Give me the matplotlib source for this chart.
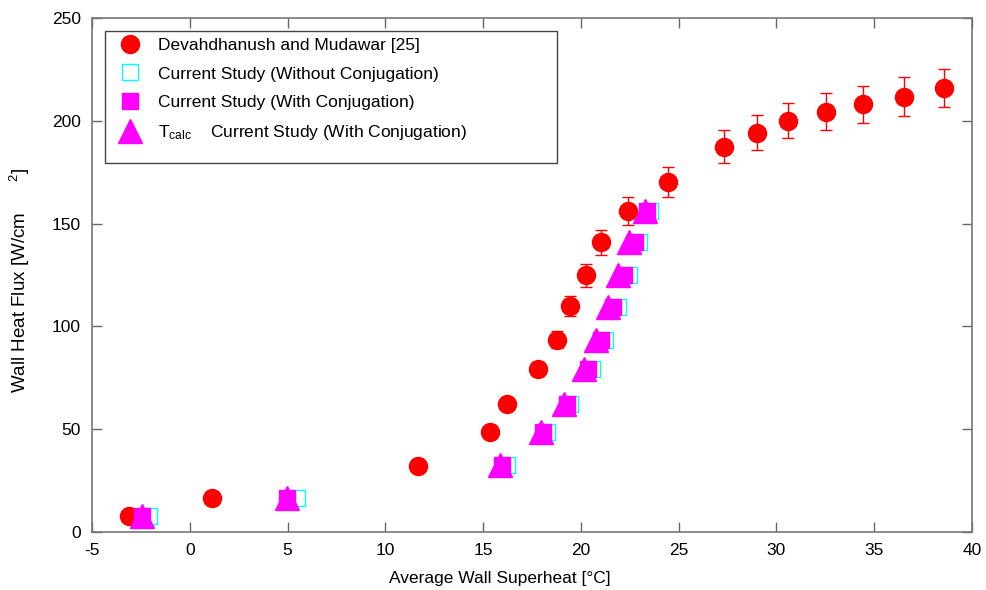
import matplotlib
matplotlib.use('Agg')
import matplotlib.pyplot as plt
from matplotlib.lines import Line2D
from matplotlib.patches import Rectangle

plt.rcParams['font.family'] = ['Liberation Sans', 'DejaVu Sans']
plt.rcParams['mathtext.fontset'] = 'custom'
plt.rcParams['mathtext.rm'] = 'Liberation Sans'
plt.rcParams['mathtext.it'] = 'Liberation Sans:italic'
plt.rcParams['axes.unicode_minus'] = False

# experiment (Devahdhanush and Mudawar [25])
exp_x = [-3.1, 1.13, 11.66, 15.34, 16.2, 17.79, 18.76, 19.44, 20.24, 21.03, 22.43,
         24.43, 27.32, 29.03, 30.57, 32.53, 34.44, 36.51, 38.59]
exp_q = [7.9, 16.5, 32.2, 48.4, 62.1, 79.1, 93.5, 109.9, 124.8, 140.9, 156.0,
         170.2, 187.5, 194.3, 200.0, 204.5, 208.1, 211.8, 215.9]
exp_err = [0.3, 0.7, 1.4, 2.1, 2.7, 3.4, 4.1, 4.8, 5.4, 6.2, 6.8,
           7.4, 8.0, 8.5, 8.6, 9.0, 9.0, 9.4, 9.3]

# simulations
sim_q = [7.9, 16.6, 32.5, 48.6, 62.3, 79.3, 93.2, 109.2, 125.1, 140.9, 156.0]
noconj_x = [-2.10, 5.50, 16.20, 18.26, 19.46, 20.57, 21.25, 21.88, 22.48, 22.99, 23.51]
conj_x = [-2.46, 4.95, 15.96, 18.04, 19.27, 20.35, 21.03, 21.63, 22.22, 22.77, 23.39]
tcalc_x = [-2.42, 4.97, 15.84, 17.94, 19.13, 20.16, 20.79, 21.40, 21.92, 22.46, 23.27]

W, H = 986, 590
fig = plt.figure(figsize=(W / 100, H / 100), dpi=100)
ax_l, ax_t, ax_w, ax_h = 92, 18, 880, 514
ax = fig.add_axes([ax_l / W, 1 - (ax_t + ax_h) / H, ax_w / W, ax_h / H])

ax.errorbar(exp_x, exp_q, yerr=exp_err, fmt='none', ecolor='red', elinewidth=1,
            capsize=4, capthick=1, zorder=2)
ax.plot(exp_x, exp_q, 'o', color='red', ms=13, mec='red', zorder=3)
ax.plot(noconj_x, sim_q, 's', mfc='white', mec='cyan', ms=11, mew=1, zorder=4)
ax.plot(conj_x, sim_q, 's', color='magenta', ms=11, zorder=5)
ax.plot(tcalc_x, sim_q, '^', color='magenta', ms=17, zorder=6)

ax.set_xlim(-5, 40)
ax.set_ylim(0, 250)
ax.set_xticks(range(-5, 41, 5))
ax.set_yticks(range(0, 251, 50))
ax.tick_params(direction='in', length=7, width=1, colors='#666666', labelcolor='black',
               labelsize=12.5, top=True, right=True, pad=8)
for s in ax.spines.values():
    s.set_color('#777777')
    s.set_linewidth(1.2)

ax.set_xlabel('Average Wall Superheat [°C]', fontsize=12.5)
ax.xaxis.set_label_coords(0.4636, -0.075)
ax.set_ylabel(r'Wall Heat Flux [W/cm$\qquad{}^{2}$]', fontsize=13.5)
ax.yaxis.set_label_coords(-0.068, 0.49)

handles = [
    Line2D([], [], ls='none', marker='o', color='red', ms=13),
    Line2D([], [], ls='none', marker='s', mfc='white', mec='cyan', ms=11),
    Line2D([], [], ls='none', marker='s', color='magenta', ms=11),
    Line2D([], [], ls='none', marker='^', color='magenta', ms=17),
]
labels = ['Devahdhanush and Mudawar [25]',
          'Current Study (Without Conjugation)',
          'Current Study (With Conjugation)',
          r'T$_{\mathrm{calc}}$    Current Study (With Conjugation)']
ax.legend(handles, labels, loc='upper left',
          bbox_to_anchor=((107 - ax_l) / ax_w, 1 - (33 - ax_t) / ax_h),
          fontsize=12.5, frameon=False, borderpad=0.3,
          labelspacing=0.75, handletextpad=0.65, borderaxespad=0)
# legend box (wider than its text, as in the original)
x0, y0, x1, y1 = 105, 31, 557, 163
ax.add_patch(Rectangle(((x0 - ax_l) / ax_w, 1 - (y1 - ax_t) / ax_h),
                       (x1 - x0) / ax_w, (y1 - y0) / ax_h, transform=ax.transAxes,
                       fill=False, edgecolor='#444444', linewidth=1, zorder=10))

fig.savefig('out.png', dpi=100)
